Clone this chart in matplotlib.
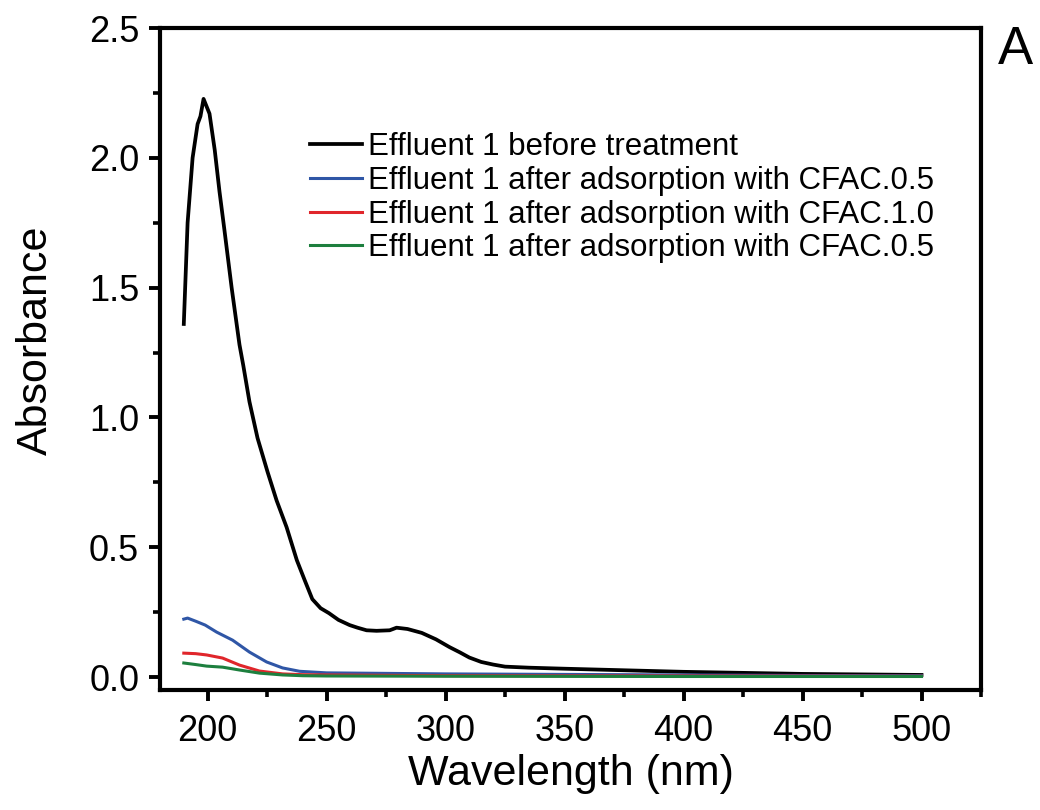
import matplotlib
matplotlib.use("Agg")
import matplotlib.pyplot as plt
from matplotlib.ticker import MultipleLocator, FormatStrFormatter

plt.rcParams['font.family'] = ['Liberation Sans', 'DejaVu Sans']

# Black: Effluent 1 before treatment
wl_black = [190, 191.6, 193.7, 195.8, 197, 198.3, 200.8, 203, 205, 207.1, 210.1, 213.4, 215,
            217.6, 221, 225.2, 229, 233.2, 237.5, 240.8, 244, 247.5, 251, 255, 259.7, 263,
            266.8, 271, 276.5, 279.4, 284, 290, 296, 301.7, 306, 310, 315, 320, 325, 335,
            350, 375, 400, 425, 450, 475, 500]
ab_black = [1.36, 1.75, 2.0, 2.13, 2.16, 2.227, 2.17, 2.03, 1.87, 1.72, 1.50, 1.28, 1.20,
            1.06, 0.92, 0.79, 0.68, 0.577, 0.45, 0.373, 0.30, 0.265, 0.246, 0.22, 0.20, 0.19,
            0.18, 0.178, 0.18, 0.19, 0.185, 0.17, 0.145, 0.115, 0.095, 0.075, 0.058, 0.048,
            0.04, 0.036, 0.032, 0.026, 0.02, 0.016, 0.012, 0.010, 0.008]

# Blue: after adsorption with CFAC.0.5
wl_blue = [190, 191.6, 195, 199, 203.8, 210.5, 217.6, 224.8, 231.5, 238.7, 250, 275, 300,
           350, 400, 450, 500]
ab_blue = [0.223, 0.227, 0.215, 0.20, 0.173, 0.142, 0.096, 0.058, 0.035, 0.022, 0.016,
           0.014, 0.012, 0.010, 0.008, 0.006, 0.005]

# Red: after adsorption with CFAC.1.0
wl_red = [190, 195, 199.6, 206.3, 213.4, 221.8, 231.5, 240, 250, 300, 400, 500]
ab_red = [0.092, 0.090, 0.085, 0.073, 0.046, 0.023, 0.012, 0.009, 0.008, 0.005, 0.004, 0.003]

# Green: after adsorption with CFAC.0.5
wl_green = [190, 195, 199.6, 206.3, 213.4, 221.8, 231.5, 240, 250, 300, 400, 500]
ab_green = [0.054, 0.048, 0.042, 0.038, 0.027, 0.015, 0.008, 0.005, 0.004, 0.003, 0.002, 0.002]

labels = ["Effluent 1 before treatment",
          "Effluent 1 after adsorption with CFAC.0.5",
          "Effluent 1 after adsorption with CFAC.1.0",
          "Effluent 1 after adsorption with CFAC.0.5"]
colors = ["#000000", "#2f56a6", "#e0262b", "#1d7f3e"]
widths = [2.7, 2.2, 2.2, 2.2]

fig = plt.figure(figsize=(10.4, 8.1), dpi=100)
ax = fig.add_axes([160/1040, 1 - 690/810, (981-160)/1040, (690-28)/810])

series = [(wl_black, ab_black), (wl_blue, ab_blue), (wl_red, ab_red), (wl_green, ab_green)]
for (x, y), c, lw, lab in zip(series, colors, widths, labels):
    ax.plot(x, y, color=c, lw=lw, label=lab, solid_joinstyle='round')

ax.set_xlim(180, 525)
ax.set_ylim(-0.05, 2.5)
ax.xaxis.set_major_locator(MultipleLocator(50))
ax.xaxis.set_minor_locator(MultipleLocator(25))
ax.yaxis.set_major_locator(MultipleLocator(0.5))
ax.yaxis.set_minor_locator(MultipleLocator(0.25))
ax.yaxis.set_major_formatter(FormatStrFormatter('%.1f'))

for s in ax.spines.values():
    s.set_linewidth(3.0)
ax.tick_params(which='major', direction='out', length=8, width=2.8, labelsize=26)
ax.tick_params(axis='x', which='major', pad=9)
ax.tick_params(axis='y', which='major', pad=7)
ax.tick_params(which='minor', direction='out', length=5, width=2.6)
ax.tick_params(top=False, right=False, which='both')

ax.set_xlabel("Wavelength (nm)", fontsize=31, labelpad=4)
ax.set_ylabel("Absorbance", fontsize=31, labelpad=24)
ax.yaxis.label.set_y((690 - 340) / 662)

leg = ax.legend(loc='upper left', bbox_to_anchor=((310-160)/821, (690-132)/662),
                frameon=False, fontsize=22.5, handlelength=1.65, handletextpad=0.2,
                labelspacing=0.12, borderaxespad=0, borderpad=0)

fig.text(1015/1040, 1 - 50/810, "A", fontsize=38, ha='center', va='center')

fig.savefig("out.png", dpi=100)
